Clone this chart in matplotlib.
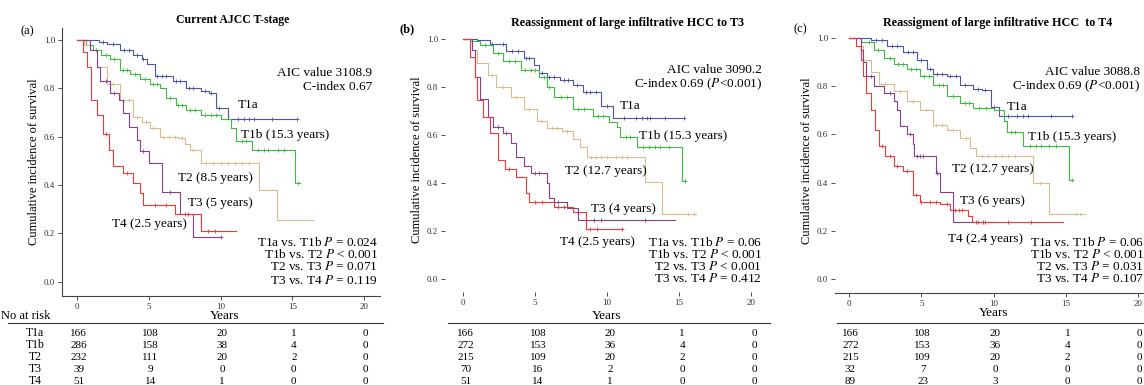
import numpy as np
import matplotlib
matplotlib.use("Agg")
import matplotlib.pyplot as plt
from matplotlib.transforms import blended_transform_factory

plt.rcParams['font.family'] = ['Liberation Serif', 'DejaVu Serif']
plt.rcParams['mathtext.fontset'] = 'stix'

## colours of the five T-stages
groups = ['T1a', 'T1b', 'T2', 'T3', 'T4']
colors = ['#4a55a5', '#3dbb3d', '#d5bd8e', '#8c3c8c', '#ee3838']

## panel (a) : current AJCC T-stage (step times / survival / censor times)
a_t1a_t = [0, 1.5, 2.1, 3.0, 3.9, 4.5, 4.9, 5.4, 6.7, 7.6, 8.6, 9.2, 9.7, 10.5, 15.3]
a_t1a_s = [1.0, 0.99, 0.985, 0.96, 0.94, 0.92, 0.90, 0.85, 0.83, 0.80, 0.79, 0.78, 0.72, 0.675, 0.675]
a_t1a_c = [1.8, 2.5, 3.3, 3.6, 4.2, 4.6, 5.6, 5.9, 6.2, 6.9, 7.2, 7.8, 8.1, 8.9, 9.3, 9.9, 11.2, 11.6, 12.0, 12.3, 13.6, 15.3]
a_t1b_t = [0, 0.6, 1.1, 1.7, 2.3, 3.0, 3.7, 4.4, 5.1, 5.8, 6.2, 6.9, 7.6, 8.6, 10.0, 10.7, 11.1, 12.2, 15.2, 15.5]
a_t1b_s = [1.0, 0.98, 0.96, 0.94, 0.92, 0.875, 0.86, 0.84, 0.82, 0.80, 0.76, 0.73, 0.71, 0.69, 0.675, 0.635, 0.58, 0.545, 0.41, 0.41]
a_t1b_c = [1.3, 2.0, 2.6, 3.2, 3.5, 4.0, 4.7, 5.3, 5.6, 6.5, 7.0, 7.3, 7.9, 8.2, 8.9, 9.3, 9.7, 11.5, 11.8, 12.6, 13.0, 13.3, 14.0, 14.4, 15.4]
a_t2_t = [0, 0.5, 0.9, 1.4, 2.1, 3.0, 3.9, 4.5, 5.1, 5.8, 7.0, 7.5, 7.9, 8.6, 12.7, 13.9, 16.4]
a_t2_s = [1.0, 0.98, 0.96, 0.89, 0.82, 0.75, 0.68, 0.66, 0.635, 0.60, 0.595, 0.57, 0.545, 0.49, 0.38, 0.254, 0.254]
a_t2_c = [2.5, 3.3, 3.6, 4.2, 4.8, 5.3, 6.0, 6.4, 6.8, 7.3, 8.1, 9.0, 9.5, 10.0, 10.5, 11.0, 11.5, 12.0]
a_t3_t = [0, 0.9, 1.4, 1.6, 2.3, 2.9, 3.2, 3.6, 4.2, 4.4, 5.0, 5.9, 7.2, 8.1, 10.0]
a_t3_s = [1.0, 0.96, 0.89, 0.83, 0.78, 0.75, 0.70, 0.64, 0.585, 0.54, 0.49, 0.37, 0.28, 0.185, 0.185]
a_t3_c = [2.0, 2.6, 4.6, 6.5, 7.5, 7.7, 10.0]
a_t4_t = [0, 0.4, 0.7, 1.0, 1.4, 1.8, 2.2, 2.5, 3.2, 3.9, 4.4, 4.6, 6.8, 8.6, 11.1]
a_t4_s = [1.0, 0.95, 0.89, 0.75, 0.69, 0.61, 0.545, 0.48, 0.45, 0.41, 0.365, 0.315, 0.28, 0.21, 0.21]
a_t4_c = [2.0, 3.5, 5.4, 6.2, 9.1, 9.6]

## panel (b) : large infiltrative HCC -> T3
b_t1a_t = [0, 1.0, 1.9, 3.0, 4.2, 4.9, 5.3, 5.8, 6.7, 7.6, 8.3, 9.6, 10.4, 15.3]
b_t1a_s = [1.0, 0.996, 0.98, 0.95, 0.92, 0.89, 0.86, 0.84, 0.83, 0.81, 0.78, 0.72, 0.67, 0.67]
b_t1a_c = [2.0, 2.8, 3.4, 3.8, 4.4, 4.6, 5.5, 6.0, 6.3, 7.0, 7.3, 7.9, 8.5, 8.8, 9.2, 10.0, 11.2, 12.0, 12.4, 12.8, 13.0, 14.0, 15.3]
b_t1b_t = [0, 0.5, 1.2, 2.1, 2.8, 4.0, 5.3, 5.8, 6.3, 7.6, 9.0, 10.1, 10.7, 10.9, 12.1, 15.2, 15.4]
b_t1b_s = [1.0, 0.99, 0.975, 0.94, 0.91, 0.87, 0.84, 0.80, 0.76, 0.71, 0.68, 0.655, 0.635, 0.59, 0.55, 0.41, 0.41]
b_t1b_c = [1.5, 2.4, 3.2, 3.6, 4.3, 4.7, 5.0, 5.6, 6.0, 6.8, 7.2, 8.0, 8.4, 9.4, 9.7, 11.3, 11.6, 12.5, 12.9, 13.3, 13.7, 14.3, 15.4]
b_t2_t = [0, 0.6, 1.0, 1.7, 2.3, 3.3, 4.2, 5.1, 5.8, 6.9, 7.6, 8.1, 8.6, 12.6, 13.8, 16.2]
b_t2_s = [1.0, 0.955, 0.90, 0.85, 0.80, 0.76, 0.71, 0.66, 0.63, 0.615, 0.585, 0.55, 0.51, 0.405, 0.27, 0.27]
b_t2_c = [2.0, 2.8, 3.7, 4.6, 5.4, 6.2, 6.5, 7.2, 8.9, 9.2, 9.6, 10.0, 10.6, 11.0, 11.4, 15.6, 16.0]
b_t3_t = [0, 0.6, 0.8, 1.2, 1.7, 2.1, 2.8, 3.3, 3.7, 4.2, 4.7, 5.8, 6.0, 6.3, 7.2, 8.0, 14.7]
b_t3_s = [1.0, 0.955, 0.84, 0.75, 0.675, 0.635, 0.61, 0.565, 0.51, 0.47, 0.44, 0.40, 0.337, 0.32, 0.295, 0.245, 0.245]
b_t3_c = [2.4, 3.0, 5.0, 5.3, 6.6, 9.1, 9.6, 12.6]
b_t4_t = [0, 0.5, 0.8, 1.0, 1.4, 1.9, 2.4, 2.9, 3.7, 4.4, 4.6, 6.3, 7.6, 8.5, 11.0]
b_t4_s = [1.0, 0.925, 0.84, 0.745, 0.675, 0.61, 0.495, 0.46, 0.425, 0.36, 0.32, 0.30, 0.28, 0.21, 0.21]
b_t4_c = [3.2, 5.0, 5.5, 6.6, 7.0, 8.8, 9.3, 11.0]

## panel (c) : large infiltrative HCC -> T4
c_t1a_t = [0, 1.5, 2.6, 3.7, 4.7, 5.4, 5.8, 6.8, 7.7, 8.6, 9.2, 9.8, 10.4, 15.4]
c_t1a_s = [1.0, 0.99, 0.965, 0.94, 0.91, 0.87, 0.85, 0.84, 0.805, 0.79, 0.785, 0.715, 0.675, 0.675]
c_t1a_c = [1.9, 2.3, 3.0, 3.3, 4.1, 4.4, 5.0, 5.6, 6.1, 6.4, 7.0, 7.4, 8.0, 8.9, 9.4, 10.0, 11.0, 11.6, 12.0, 12.4, 14.0, 15.4]
c_t1b_t = [0, 0.8, 1.7, 2.4, 3.1, 4.0, 4.9, 5.8, 6.8, 7.7, 8.6, 10.0, 10.7, 10.9, 12.0, 15.2, 15.4]
c_t1b_s = [1.0, 0.985, 0.95, 0.915, 0.89, 0.87, 0.84, 0.805, 0.76, 0.73, 0.71, 0.70, 0.655, 0.61, 0.55, 0.41, 0.41]
c_t1b_c = [1.4, 2.0, 2.8, 3.4, 3.7, 4.3, 4.6, 5.2, 5.5, 6.2, 6.5, 7.2, 8.0, 8.3, 9.0, 9.5, 11.2, 11.5, 12.5, 12.9, 13.3, 13.8, 14.3, 15.4]
c_t2_t = [0, 0.5, 1.0, 1.5, 2.1, 3.1, 4.0, 4.9, 5.8, 6.8, 7.7, 8.4, 8.8, 12.7, 13.8, 16.3]
c_t2_s = [1.0, 0.965, 0.91, 0.86, 0.81, 0.78, 0.74, 0.70, 0.64, 0.62, 0.585, 0.545, 0.51, 0.40, 0.27, 0.27]
c_t2_c = [2.5, 3.5, 4.4, 5.3, 6.0, 6.4, 7.2, 8.1, 9.2, 9.6, 10.1, 10.6, 11.0, 11.5, 13.2, 15.7, 16.0]
c_t3_t = [0, 0.8, 1.0, 1.2, 1.7, 2.4, 3.1, 3.3, 3.5, 4.0, 4.4, 4.5, 6.0, 6.3, 7.2, 10.0]
c_t3_s = [1.0, 0.95, 0.90, 0.84, 0.80, 0.77, 0.74, 0.70, 0.635, 0.60, 0.56, 0.51, 0.44, 0.36, 0.235, 0.235]
c_t3_c = [1.5, 2.8, 4.2, 4.7, 4.9, 5.1, 6.1, 8.8, 9.3]
c_t4_t = [0, 0.5, 0.8, 1.0, 1.2, 1.5, 1.8, 2.1, 2.5, 3.1, 3.7, 4.4, 4.9, 6.3, 7.0, 8.2, 8.5, 14.8]
c_t4_s = [1.0, 0.965, 0.91, 0.84, 0.77, 0.70, 0.62, 0.55, 0.51, 0.47, 0.45, 0.35, 0.32, 0.31, 0.285, 0.26, 0.235, 0.235]
c_t4_c = [2.3, 2.8, 3.3, 4.0, 4.6, 5.0, 5.6, 6.0, 6.8, 7.3, 7.6, 7.8, 8.9, 9.4, 11.0, 12.6]

## numbers at risk (0, 5, 10, 15, 20 years)
risk_years = [0, 5, 10, 15, 20]
a_risk = [[166, 108, 20, 1, 0], [286, 158, 38, 4, 0], [232, 111, 20, 2, 0], [39, 9, 0, 0, 0], [51, 14, 1, 0, 0]]
b_risk = [[166, 108, 20, 1, 0], [272, 153, 36, 4, 0], [215, 109, 20, 2, 0], [70, 16, 2, 0, 0], [51, 14, 1, 0, 0]]
c_risk = [[166, 108, 20, 1, 0], [272, 153, 36, 4, 0], [215, 109, 20, 2, 0], [32, 7, 0, 0, 0], [89, 23, 3, 0, 0]]

a_curves = [(a_t1a_t, a_t1a_s, a_t1a_c), (a_t1b_t, a_t1b_s, a_t1b_c), (a_t2_t, a_t2_s, a_t2_c),
            (a_t3_t, a_t3_s, a_t3_c), (a_t4_t, a_t4_s, a_t4_c)]
b_curves = [(b_t1a_t, b_t1a_s, b_t1a_c), (b_t1b_t, b_t1b_s, b_t1b_c), (b_t2_t, b_t2_s, b_t2_c),
            (b_t3_t, b_t3_s, b_t3_c), (b_t4_t, b_t4_s, b_t4_c)]
c_curves = [(c_t1a_t, c_t1a_s, c_t1a_c), (c_t1b_t, c_t1b_s, c_t1b_c), (c_t2_t, c_t2_s, c_t2_c),
            (c_t3_t, c_t3_s, c_t3_c), (c_t4_t, c_t4_s, c_t4_c)]

W, H = 1144, 385
fig = plt.figure(figsize=(W / 100, H / 100), dpi=100)

FS = 9.5  # annotation text size


def px(x, y):
    return x / W, 1 - y / H


def add_axes(l, r, t, b):
    return fig.add_axes([l / W, 1 - b / H, (r - l) / W, (b - t) / H])


def draw_km(ax, curves):
    for (t, s, c), col in zip(curves, colors):
        t = np.array(t); s = np.array(s)
        ax.step(t, s, where='post', color=col, lw=0.8)
        c = np.array(c)
        idx = np.searchsorted(t, c, side='right') - 1
        ax.plot(c, s[idx], '+', color=col, ms=3.5, mew=0.6, ls='none')


def style(ax, xlim, ylim, left_spine, bottom_spine):
    ax.set_xlim(*xlim); ax.set_ylim(*ylim)
    ax.set_xticks(risk_years)
    ax.set_yticks([0, 0.2, 0.4, 0.6, 0.8, 1.0])
    ax.set_yticklabels(['0.0', '0.2', '0.4', '0.6', '0.8', '1.0'])
    for sp in ['top', 'right']:
        ax.spines[sp].set_visible(False)
    ax.spines['left'].set_visible(left_spine)
    ax.spines['bottom'].set_visible(bottom_spine)
    ax.spines['left'].set_color('#444444'); ax.spines['bottom'].set_color('#444444')
    ax.spines['left'].set_linewidth(0.8); ax.spines['bottom'].set_linewidth(0.8)
    ax.tick_params(labelsize=6.5, length=3, width=0.6, colors='#333333', pad=2)
    ax.patch.set_alpha(0)


def risk_table(ax, risk, line_x0, line_x1, dx=0.0):
    tr = blended_transform_factory(ax.transData, fig.transFigure)
    rows_y = [333, 345, 357, 369, 381]
    for row, yy in zip(risk, rows_y):
        for xv, n in zip(risk_years, row):
            ax.text(xv + dx, 1 - yy / H, str(n), transform=tr, ha='center', va='center',
                    fontsize=8, clip_on=False)
    fig.add_artist(plt.Line2D([line_x0 / W, line_x1 / W], [1 - 323 / H] * 2, color='#333333', lw=0.8))


def ptext(x, y, s, size=FS, **kw):
    fig.text(*px(x, y), s, fontsize=size, **kw)


## ---------- (a)
ax1 = add_axes(62, 380, 28, 296)
draw_km(ax1, a_curves)
style(ax1, (-1.05, 21.1), (-0.06, 1.05), True, True)
ax1.set_ylabel('Cumulative incidence of survival', fontsize=9, labelpad=3)
ptext(233, 20, 'Current AJCC T-stage', size=8.5, weight='bold', ha='center', va='center')
ptext(27, 31, '(a)', size=9, ha='center', va='center')
ptext(372, 73, 'AIC value 3108.9', ha='right', va='center')
ptext(372, 87, 'C-index 0.67', ha='right', va='center')
ptext(238, 105, 'T1a', va='center')
ptext(241, 135, 'T1b (15.3 years)', va='center')
ptext(178, 178, 'T2 (8.5 years)', va='center')
ptext(188, 203, 'T3 (5 years)', va='center')
ptext(112, 224, 'T4 (2.5 years)', va='center')
ptext(378, 243, r'T1a vs. T1b $P$ = 0.024', ha='right', va='center')
ptext(378, 255, r'T1b vs. T2 $P$ < 0.001', ha='right', va='center')
ptext(378, 267, r'T2 vs. T3 $P$ = 0.071', ha='right', va='center')
ptext(378, 280, r'T3 vs. T4 $P$ = 0.119', ha='right', va='center')
ptext(225, 316, 'Years', ha='center', va='center')
ptext(1, 316, 'No at risk', size=9, va='center')
for g, yy in zip(groups, [333, 345, 357, 369, 381]):
    ptext(35, yy, g, size=8.5, ha='center', va='center')
risk_table(ax1, a_risk, 8, 383, dx=0.1)

## ---------- (b)
ax2 = add_axes(445, 770, 28, 292)
draw_km(ax2, b_curves)
style(ax2, (-1.25, 21.3), (-0.054, 1.046), False, False)
ax2.set_ylabel('Cumulative incidence of survival', fontsize=9, labelpad=3)
ptext(627, 23, 'Reassignment of large infiltrative HCC to T3', size=8.7, weight='bold', ha='center', va='center')
ptext(407, 29, '(b)', size=9, weight='bold', ha='center', va='center')
ptext(762, 70, 'AIC value 3090.2', ha='right', va='center')
ptext(762, 84, r'C-index 0.69 ($P$<0.001)', ha='right', va='center')
ptext(620, 106, 'T1a', va='center')
ptext(639, 136, 'T1b (15.3 years)', va='center')
ptext(565, 171, 'T2 (12.7 years)', va='center')
ptext(591, 209, 'T3 (4 years)', va='center')
ptext(560, 242, 'T4 (2.5 years)', va='center')
ptext(762, 242, r'T1a vs. T1b $P$ = 0.06', ha='right', va='center')
ptext(762, 254, r'T1b vs. T2 $P$ < 0.001', ha='right', va='center')
ptext(762, 266, r'T2 vs. T3 $P$ < 0.001', ha='right', va='center')
ptext(762, 278, r'T3 vs. T4 $P$ = 0.412', ha='right', va='center')
ptext(607, 316, 'Years', ha='center', va='center')
risk_table(ax2, b_risk, 448, 770, dx=0.2)

## ---------- (c)
ax3 = add_axes(835, 1144, 28, 293)
draw_km(ax3, c_curves)
style(ax3, (-0.97, 20.4), (-0.058, 1.041), False, True)
ax3.set_ylabel('Cumulative incidence of survival', fontsize=9, labelpad=3)
ptext(998, 23, 'Reassigment of large infiltrative HCC  to T4', size=8.7, weight='bold', ha='center', va='center')
ptext(800, 29, '(c)', size=9, ha='center', va='center')
ptext(1140, 72, 'AIC value 3088.8', ha='right', va='center')
ptext(1140, 86, r'C-index 0.69 ($P$<0.001)', ha='right', va='center')
ptext(1007, 107, 'T1a', va='center')
ptext(1028, 137, 'T1b (15.3 years)', va='center')
ptext(952, 169, 'T2 (12.7 years)', va='center')
ptext(960, 201, 'T3 (6 years)', va='center')
ptext(948, 239, 'T4 (2.4 years)', va='center')
ptext(1144, 243, r'T1a vs. T1b $P$ = 0.06', ha='right', va='center')
ptext(1144, 254, r'T1b vs. T2 $P$ < 0.001', ha='right', va='center')
ptext(1144, 266, r'T2 vs. T3 $P$ = 0.031', ha='right', va='center')
ptext(1144, 278, r'T3 vs. T4 $P$ = 0.107', ha='right', va='center')
ptext(994, 313, 'Years', ha='center', va='center')
risk_table(ax3, c_risk, 837, 1144, dx=0.1)

fig.savefig('out.png', dpi=100)
